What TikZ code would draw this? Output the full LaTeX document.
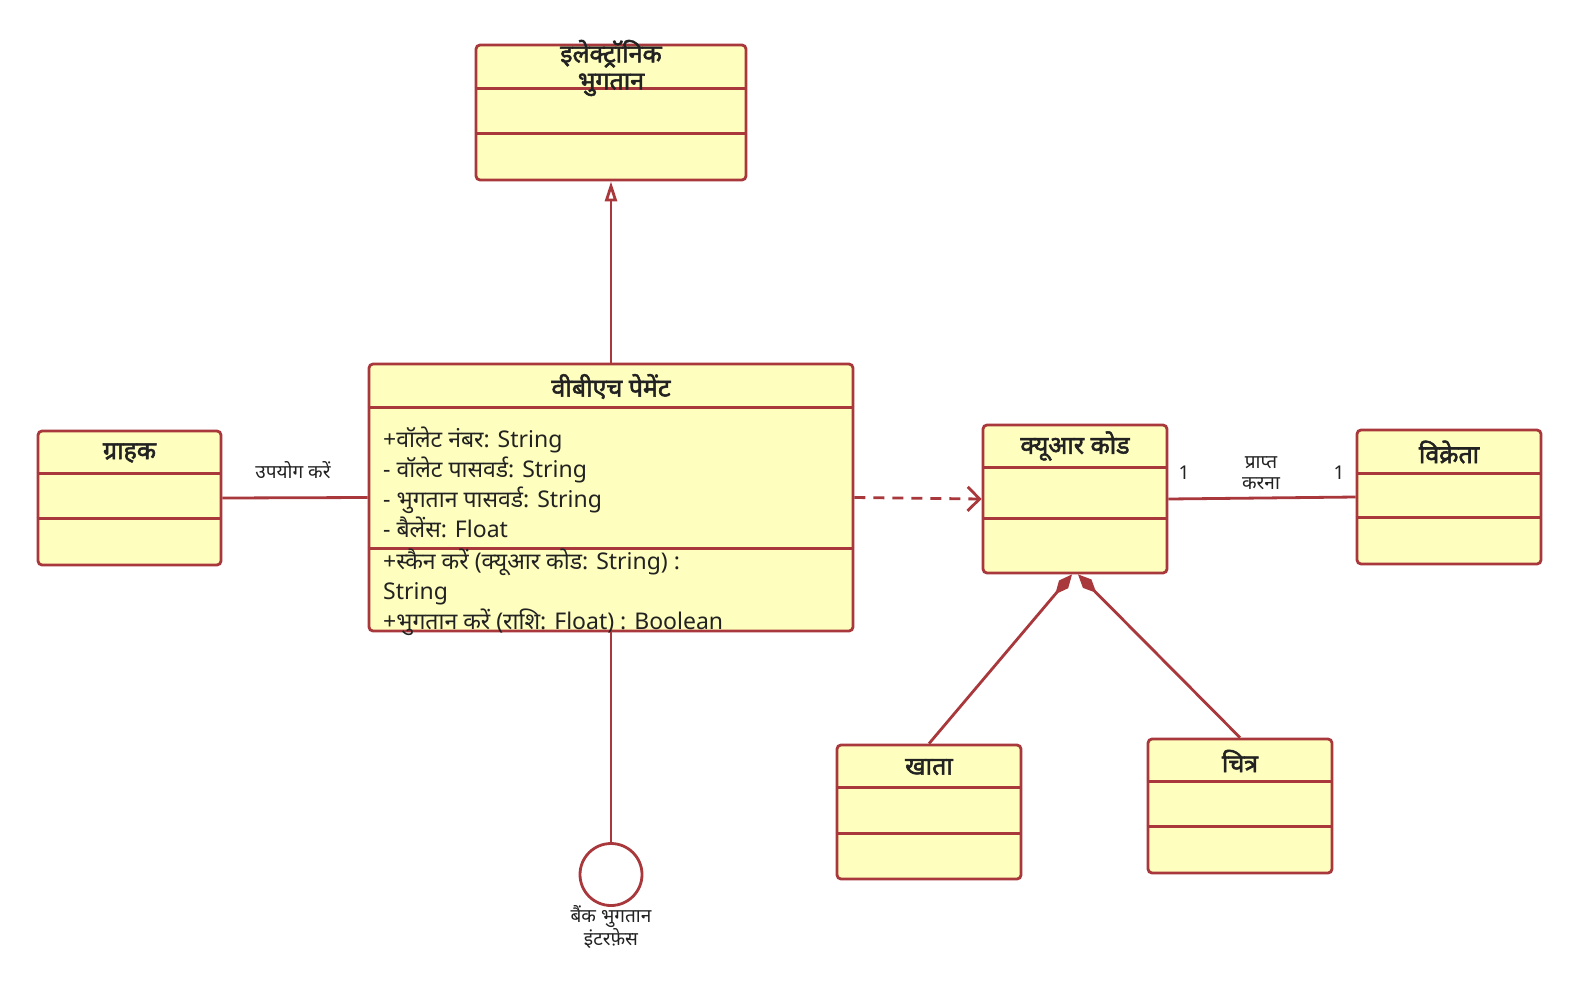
\documentclass[tikz,border=0pt]{standalone}
\usepackage{fontspec}
\setmainfont[Script=Devanagari]{Noto Sans}
\newfontfamily\titlefont[Script=Devanagari, FakeBold=2.2]{Noto Sans}
\usetikzlibrary{arrows.meta,calc}
\definecolor{umlred}{HTML}{A8383B}
\definecolor{umlfill}{HTML}{FEFEBE}
\definecolor{txt}{HTML}{222222}
\begin{document}
\begin{tikzpicture}[x=1pt,y=-1pt,
  classbox/.style={draw=umlred, fill=umlfill, line width=2.8pt, rounded corners=4pt, inner sep=0pt},
  divider/.style={draw=umlred, line width=2.8pt},
  conn/.style={draw=umlred, line width=2.8pt},
  ctitle/.style={font=\titlefont\fontsize{25}{27}\selectfont, text=txt, align=center, inner sep=0pt},
  attr/.style={font=\fontsize{23}{30}\selectfont, text=txt, anchor=west, align=left, inner sep=0pt},
  lbl/.style={font=\fontsize{19}{21}\selectfont, text=txt, align=center, inner sep=0pt}
]
\useasboundingbox (0,0) rectangle (1578,988);
\fill[white] (0,0) rectangle (1578,988);

% Electronic payment
\node[classbox, minimum width=270pt, minimum height=135pt] (elec) at (611,112.5) {};
\draw[divider] ([yshift=-45pt]elec.north west) -- ([yshift=-45pt]elec.north east);
\draw[divider] ([yshift=-90pt]elec.north west) -- ([yshift=-90pt]elec.north east);
\node[ctitle] (elect) at (611,68) {इलेक्ट्रॉनिक\\भुगतान};

% VBH payment
\node[classbox, minimum width=484pt, minimum height=267pt] (vbh) at (611,497.5) {};
\draw[divider] ([yshift=-45pt]vbh.north west) -- ([yshift=-45pt]vbh.north east);
\draw[divider] ([yshift=-186pt]vbh.north west) -- ([yshift=-186pt]vbh.north east);
\node[ctitle] (vbht) at (611,386.5) {वीबीएच पेमेंट};
\node[attr] (vbha) at (383,482) {+वॉलेट नंबर: String\\- वॉलेट पासवर्ड: String\\- भुगतान पासवर्ड: String\\- बैलेंस: Float};
\node[attr] (vbhm) at (383,592) {+स्कैन करें (क्यूआर कोड: String) :\\String\\+भुगतान करें (राशि: Float) : Boolean};

% Customer
\node[classbox, minimum width=183pt, minimum height=134pt] (grahak) at (129.5,498) {};
\draw[divider] ([yshift=-44pt]grahak.north west) -- ([yshift=-44pt]grahak.north east);
\draw[divider] ([yshift=-89pt]grahak.north west) -- ([yshift=-89pt]grahak.north east);
\node[ctitle] (grahakt) at (129.5,453) {ग्राहक};

% QR code
\node[classbox, minimum width=184pt, minimum height=148pt] (qr) at (1075,499) {};
\draw[divider] ([yshift=-44pt]qr.north west) -- ([yshift=-44pt]qr.north east);
\draw[divider] ([yshift=-95pt]qr.north west) -- ([yshift=-95pt]qr.north east);
\node[ctitle] (qrt) at (1075,446) {क्यूआर कोड};

% Seller
\node[classbox, minimum width=184pt, minimum height=134pt] (vik) at (1449,497) {};
\draw[divider] ([yshift=-45pt]vik.north west) -- ([yshift=-45pt]vik.north east);
\draw[divider] ([yshift=-89pt]vik.north west) -- ([yshift=-89pt]vik.north east);
\node[ctitle] (vikt) at (1449,452) {विक्रेता};

% Account
\node[classbox, minimum width=184pt, minimum height=134pt] (khata) at (929,812) {};
\draw[divider] ([yshift=-44pt]khata.north west) -- ([yshift=-44pt]khata.north east);
\draw[divider] ([yshift=-90pt]khata.north west) -- ([yshift=-90pt]khata.north east);
\node[ctitle] (khatat) at (929,767) {खाता};

% Picture
\node[classbox, minimum width=184pt, minimum height=134pt] (chitra) at (1240,806) {};
\draw[divider] ([yshift=-44pt]chitra.north west) -- ([yshift=-44pt]chitra.north east);
\draw[divider] ([yshift=-89pt]chitra.north west) -- ([yshift=-89pt]chitra.north east);
\node[ctitle] (chitrat) at (1240,761) {चित्र};

% Interface
\node[circle, draw=umlred, line width=2.8pt, fill=white, minimum size=62pt, inner sep=0pt] (iface) at (611,874.5) {};
\node[lbl] (ifacel) at (611,927) {बैंक भुगतान\\इंटरफ़ेस};

% Connectors
\draw[conn, -{Triangle[open, length=20pt, width=12pt]}] (vbh.north) -- (elec.south);
\draw[conn] (grahak.east) -- (vbh.west);
\node[lbl] (uselbl) at (293,470) {उपयोग करें};
\draw[conn, dash pattern=on 11pt off 8pt, -{Straight Barb[length=12pt, width=24pt]}] (vbh.east) -- (qr.west);
\draw[conn] (qr.east) -- (vik.west);
\node[lbl] (m1) at (1184,473) {1};
\node[lbl] (m2) at (1339,473) {1};
\node[lbl] (recv) at (1261,473) {प्राप्त\\करना};
\coordinate (qrl) at ($(qr.south)+(-3,0)$);
\coordinate (qrr) at ($(qr.south)+(3,0)$);
\draw[conn, -{Diamond[length=26pt, width=12pt]}] (khata.north) -- (qrl);
\draw[conn, -{Diamond[length=26pt, width=12pt]}] (chitra.north) -- (qrr);
\draw[conn] (vbh.south) -- (iface.north);
\end{tikzpicture}
\end{document}
